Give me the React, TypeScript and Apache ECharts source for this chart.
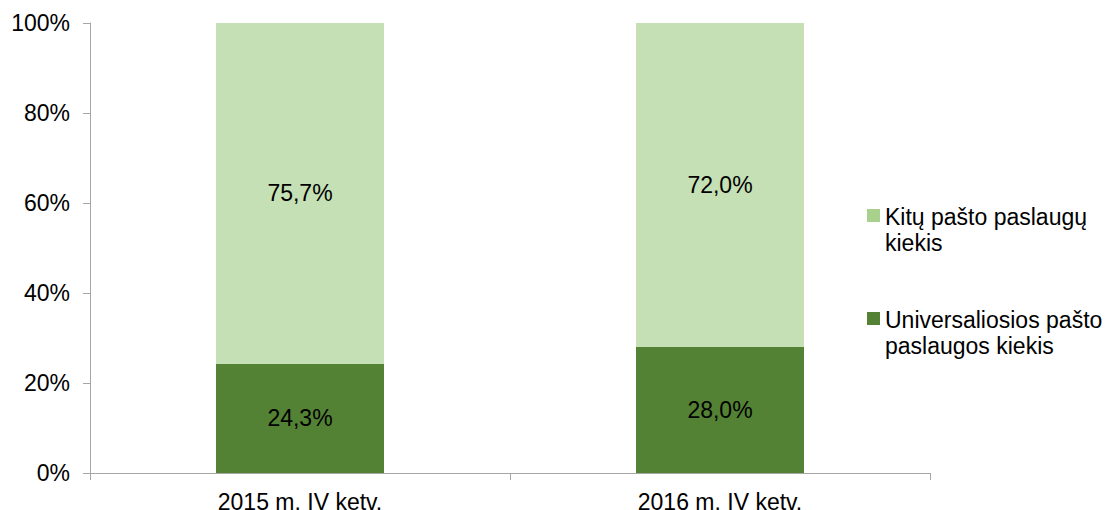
import React, { useEffect, useRef } from "react";
import * as echarts from "echarts";

const categories = ["2015 m. IV ketv.", "2016 m. IV ketv."];
const universaliosValues = [24.3, 28.0];
const kituValues = [75.7, 72.0];
const seriesNames = ["Universaliosios pašto paslaugos kiekis", "Kitų pašto paslaugų kiekis"];
const legendLines = [
  ["Kitų pašto paslaugų", "kiekis"],
  ["Universaliosios pašto", "paslaugos kiekis"],
];

const FONT = "'Liberation Sans', Arial, sans-serif";
const FS = 23;

const fmt = (v: number) => v.toFixed(1).replace(".", ",") + "%";

export default function App() {
  const ref = useRef<HTMLDivElement>(null);
  useEffect(() => {
    if (!ref.current) return;
    const chart = echarts.init(ref.current, undefined, { renderer: "svg" });
    const label = {
      show: true,
      position: "inside",
      color: "#000",
      fontSize: FS,
      fontFamily: FONT,
      formatter: (p: any) => fmt(p.value),
    };
    chart.setOption({
      animation: false,
      grid: { left: 90, right: 183, top: 23, bottom: 37, containLabel: false, outerBoundsMode: "none" },
      xAxis: {
        type: "category",
        data: categories,
        axisLine: { lineStyle: { color: "#a6a6a6", width: 1 } },
        axisTick: { show: true, length: 7, lineStyle: { color: "#a6a6a6" } },
        axisLabel: { color: "#000", fontSize: FS, fontFamily: FONT, margin: 17 },
      },
      yAxis: {
        type: "value",
        min: 0,
        max: 100,
        interval: 20,
        axisLine: { show: true, lineStyle: { color: "#a6a6a6", width: 1 } },
        axisTick: { show: true, length: 7, lineStyle: { color: "#a6a6a6" } },
        splitLine: { show: false },
        axisLabel: {
          color: "#000",
          fontSize: FS,
          fontFamily: FONT,
          margin: 20,
          formatter: (v: number) => v + "%",
        },
      },
      series: [
        {
          name: seriesNames[0],
          type: "bar",
          stack: "total",
          barWidth: "40%",
          data: universaliosValues,
          itemStyle: { color: "#548235" },
          label,
        },
        {
          name: seriesNames[1],
          type: "bar",
          stack: "total",
          barWidth: "40%",
          data: kituValues,
          itemStyle: { color: "#C5E0B4" },
          label,
        },
      ],
      graphic: [
        { type: "rect", left: 867, top: 209, shape: { width: 13, height: 13 }, style: { fill: "#A9D18E" } },
        {
          type: "text",
          left: 885,
          top: 204,
          style: {
            text: legendLines[0].join("\n"),
            fontSize: FS,
            fontFamily: FONT,
            fill: "#000",
            lineHeight: 26,
          },
        },
        { type: "rect", left: 867, top: 312, shape: { width: 13, height: 13 }, style: { fill: "#548235" } },
        {
          type: "text",
          left: 885,
          top: 307,
          style: {
            text: legendLines[1].join("\n"),
            fontSize: FS,
            fontFamily: FONT,
            fill: "#000",
            lineHeight: 26,
          },
        },
      ],
    });
    return () => chart.dispose();
  }, []);
  return <div ref={ref} style={{ width: 1113, height: 510, position: "absolute", left: 0, top: 0 }} />;
}
